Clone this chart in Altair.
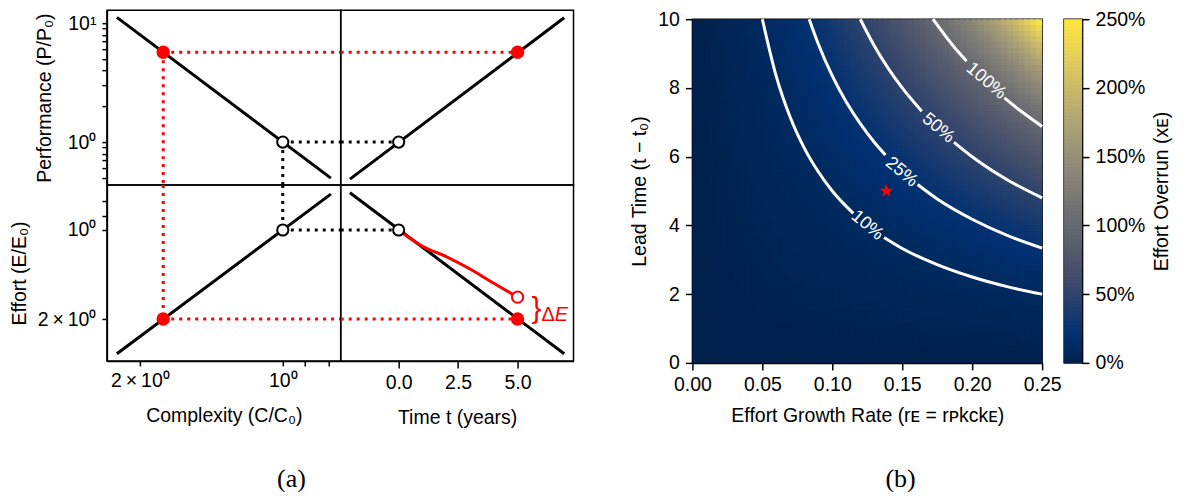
import numpy as np
import pandas as pd
import altair as alt

FONT = "Liberation Sans"
SERIF = "Liberation Serif"
RED = "#ff0000"
FS = 19.5
STAR = ("M0,-1L0.2245,-0.309L0.951,-0.309L0.363,0.118L0.588,0.809L0,0.382"
        "L-0.588,0.809L-0.363,0.118L-0.951,-0.309L-0.2245,-0.309Z")

# ---------------- panel (a): values ----------------
C_domain = [0.755, 2.347]     # complexity axis extent (reversed, log)
P_domain = [0.435, 12.86]     # performance axis extent (log)
E_domain = [0.7047, 2.771]    # effort axis extent (reversed, log)
T_domain = [-2.437, 7.353]    # time axis extent

C_line = [2.236, 0.792]
P_vs_C = [11.2, 0.497]
E_vs_C = [2.62, 0.756]
T_line = [-2.05, 6.96]
P_vs_T = [0.488, 11.1]
E_vs_T = [0.748, 2.62]

base_C, base_P, base_E, base_T = 1.0, 1.0, 1.0, 0.0
red_C, red_P, red_E, red_T = 1.786, 5.7, 2.0, 5.0
plan_E = 1.687

T_curve = [0, 0.5, 1, 2, 3, 4, 5]
E_curve = [1.0, 1.070, 1.135, 1.230, 1.355, 1.514, 1.687]

P_ticks = [0.5, 0.6, 0.7, 0.8, 0.9, 1, 2, 3, 4, 5, 6, 7, 8, 9, 10]
E_ticks = [0.8, 0.9, 1, 2]
C_ticks = [0.8, 0.9, 1, 2]
T_ticks = [0, 2.5, 5]

# ---------------- panel (b): values ----------------
r_ticks = [0, 0.05, 0.10, 0.15, 0.20, 0.25]
lead_ticks = [0, 2, 4, 6, 8, 10]
cb_ticks = [0, 0.5, 1.0, 1.5, 2.0, 2.5]

# overrun level  <->  product r_E * t at which it is reached
overrun_stops = [0, 0.10, 0.20, 0.28, 0.56, 0.83, 1.11, 1.39, 1.67, 1.94, 2.22, 2.50]
rt_stops = [0, 0.50, 0.75, 0.90, 1.30, 1.58, 1.80, 1.98, 2.13, 2.26, 2.38, 2.48]
color_stops = ["#00204D", "#002A5F", "#003070", "#0A3470", "#39486B", "#575C6D",
               "#707173", "#8A8779", "#A69D75", "#C4B56C", "#E4CF5B", "#FEE838"]

# contour lines (two pieces each, split around the inline label)
c10_r = [0.050, 0.060, 0.070, 0.080, 0.090, 0.100, 0.115, None, 0.137, 0.150, 0.175, 0.200, 0.225, 0.250]
c10_t = [10.0, 8.33, 7.14, 6.25, 5.56, 5.00, 4.35, None, 3.65, 3.33, 2.86, 2.50, 2.22, 2.00]
c25_r = [0.0835, 0.090, 0.100, 0.110, 0.120, 0.130, 0.138, None, 0.161, 0.175, 0.200, 0.225, 0.250]
c25_t = [10.0, 9.28, 8.35, 7.59, 6.96, 6.42, 6.05, None, 5.19, 4.77, 4.18, 3.71, 3.34]
c50_r = [0.120, 0.130, 0.140, 0.150, 0.164, None, 0.187, 0.200, 0.225, 0.250]
c50_t = [10.0, 9.23, 8.57, 8.00, 7.32, None, 6.42, 6.00, 5.33, 4.80]
c100_r = [0.172, 0.180, 0.190, 0.196, None, 0.223, 0.235, 0.250]
c100_t = [10.0, 9.56, 9.05, 8.78, None, 7.71, 7.32, 6.88]

label_text = ["10%", "25%", "50%", "100%"]
label_r = [0.125, 0.1495, 0.1757, 0.210]
label_t = [4.0, 5.55, 6.83, 8.2]

star_r = [0.1386]
star_t = [5.0]

# ---------------- scales / axes ----------------
sC = alt.Scale(type="log", domain=C_domain, reverse=True, nice=False)
sP = alt.Scale(type="log", domain=P_domain, nice=False)
sE = alt.Scale(type="log", domain=E_domain, reverse=True, nice=False)
sT = alt.Scale(domain=T_domain, nice=False, zero=False)

two = "'2\u2009×\u200910⁰'"
axP = alt.Axis(values=P_ticks, title="Performance (P/P₀)", tickSize=5, titlePadding=13,
               labelExpr="datum.value == 1 ? '10⁰' : datum.value == 10 ? '10¹' : ''")
axE = alt.Axis(values=E_ticks, title="Effort (E/E₀)", tickSize=5,
               labelExpr=f"datum.value == 1 ? '10⁰' : datum.value == 2 ? {two} : ''")
axC = alt.Axis(values=C_ticks, title="Complexity (C/C₀)", tickSize=5, titlePadding=16,
               labelExpr=f"datum.value == 1 ? '10⁰' : datum.value == 2 ? {two} : ''")
axT = alt.Axis(values=T_ticks, format=".1f", title="Time t (years)", titlePadding=16)


def enc(chan, scale, axis):
    def f(field):
        return chan(field, type="quantitative", scale=scale, axis=axis)
    return f


dotted = dict(strokeWidth=3, strokeDash=[3, 5])


def seg_layer(xs, x2s, ys, y2s, cols, xf, yf):
    df = pd.DataFrame({"x": xs, "x2": x2s, "y": ys, "y2": y2s, "c": cols})
    return alt.Chart(df).mark_rule(**dotted).encode(
        x=xf("x"), x2="x2", y=yf("y"), y2="y2", color=alt.Color("c:N", scale=None))


def line_layer(xs, ys, xf, yf, color, interp="linear"):
    df = pd.DataFrame({"x": xs, "y": ys, "i": list(range(len(xs)))})
    return alt.Chart(df).mark_line(color=color, strokeWidth=3, interpolate=interp).encode(
        x=xf("x"), y=yf("y"), order="i:Q")


def hollow(x, y, xf, yf, stroke="black"):
    df = pd.DataFrame({"x": [x], "y": [y]})
    return alt.Chart(df).mark_point(shape="circle", filled=True, fill="white", stroke=stroke,
                                    strokeWidth=2, size=125, opacity=1).encode(x=xf("x"), y=yf("y"))


def dot(x, y, xf, yf):
    df = pd.DataFrame({"x": [x], "y": [y]})
    return alt.Chart(df).mark_circle(color=RED, size=180, opacity=1).encode(x=xf("x"), y=yf("y"))


# top-left: performance vs complexity
xTL, yTL = enc(alt.X, sC, None), enc(alt.Y, sP, axP)
TL = alt.layer(
    seg_layer([red_C, red_C, base_C, base_C], [C_domain[0], red_C, C_domain[0], base_C],
              [red_P, red_P, base_P, base_P], [red_P, P_domain[0], base_P, P_domain[0]],
              [RED, RED, "black", "black"], xTL, yTL),
    line_layer(C_line, P_vs_C, xTL, yTL, "black"),
    hollow(base_C, base_P, xTL, yTL),
    dot(red_C, red_P, xTL, yTL),
).properties(width=234, height=175)

# top-right: performance vs time
xTR, yTR = enc(alt.X, sT, None), enc(alt.Y, sP, None)
TR = alt.layer(
    seg_layer([T_domain[0], T_domain[0]], [red_T, base_T], [red_P, base_P], [red_P, base_P],
              [RED, "black"], xTR, yTR),
    line_layer(T_line, P_vs_T, xTR, yTR, "black"),
    hollow(base_T, base_P, xTR, yTR),
    dot(red_T, red_P, xTR, yTR),
).properties(width=233, height=175)

# bottom-left: effort vs complexity
xBL, yBL = enc(alt.X, sC, axC), enc(alt.Y, sE, axE)
BL = alt.layer(
    seg_layer([red_C, red_C, base_C, base_C], [red_C, C_domain[0], base_C, C_domain[0]],
              [E_domain[0], red_E, E_domain[0], base_E], [red_E, red_E, base_E, base_E],
              [RED, RED, "black", "black"], xBL, yBL),
    line_layer(C_line, E_vs_C, xBL, yBL, "black"),
    hollow(base_C, base_E, xBL, yBL),
    dot(red_C, red_E, xBL, yBL),
).properties(width=234, height=176)

# bottom-right: effort vs time
xBR, yBR = enc(alt.X, sT, axT), enc(alt.Y, sE, None)
ann = pd.DataFrame({"x": [5.80, 6.01, 6.56], "y": [1.984, 2.03, 2.03], "s": ["}", "Δ", "E"]})
brace = alt.Chart(ann.iloc[[0]]).mark_text(color=RED, font=FONT, fontSize=30, align="center",
                                          baseline="alphabetic").encode(x=xBR("x"), y=yBR("y"), text="s:N")
delta = alt.Chart(ann.iloc[[1]]).mark_text(color=RED, font=FONT, fontSize=20, align="left",
                                          baseline="alphabetic").encode(x=xBR("x"), y=yBR("y"), text="s:N")
eital = alt.Chart(ann.iloc[[2]]).mark_text(color=RED, font=FONT, fontSize=20, align="left", fontStyle="italic",
                                          baseline="alphabetic").encode(x=xBR("x"), y=yBR("y"), text="s:N")
BR = alt.layer(
    line_layer(T_line, E_vs_T, xBR, yBR, "black"),
    line_layer(T_curve, E_curve, xBR, yBR, RED, "monotone"),
    seg_layer([T_domain[0], T_domain[0]], [red_T, base_T], [red_E, base_E], [red_E, base_E],
              [RED, "black"], xBR, yBR),
    hollow(base_T, base_E, xBR, yBR),
    hollow(red_T, plan_E, xBR, yBR, RED),
    dot(red_T, red_E, xBR, yBR),
    brace, delta, eital,
).properties(width=233, height=176)

grid = alt.concat(TL, TR, BL, BR, columns=2, spacing=0, bounds="flush",
                  title=alt.TitleParams("(a)", orient="bottom", font=SERIF, fontSize=26,
                                        fontWeight="normal", color="black", offset=38, anchor="middle"))

# ---------------- heatmap ----------------
NR, NT = 60, 60
r_edges = np.linspace(0, 0.25, NR + 1)
t_edges = np.linspace(0, 10, NT + 1)
dr, dt = r_edges[1] - r_edges[0], t_edges[1] - t_edges[0]
R0, T0 = np.meshgrid(r_edges[:-1], t_edges[:-1])
cells = pd.DataFrame({
    "r0": R0.ravel(), "r1": np.minimum(R0 + 1.3 * dr, 0.25).ravel(),
    "t0": T0.ravel(), "t1": np.minimum(T0 + 1.3 * dt, 10).ravel(),
    "rc": (R0 + dr / 2).ravel(), "tc": (T0 + dt / 2).ravel(),
})

sR = alt.Scale(domain=[0, 0.25], nice=False, zero=False)
sL = alt.Scale(domain=[0, 10], nice=False, zero=False)
axR = alt.Axis(values=r_ticks, format=".2f", title="Effort Growth Rate (rᴇ = rᴘkᴄkᴇ)", titlePadding=12)
axL = alt.Axis(values=lead_ticks, format="d", title="Lead Time (t − t₀)")
xH, yH = enc(alt.X, sR, axR), enc(alt.Y, sL, axL)

heat = alt.Chart(cells).transform_calculate(u="datum.rc * datum.tc").mark_rect().encode(
    x=xH("r0"), x2="r1", y=yH("t0"), y2="t1",
    color=alt.Color("u:Q", scale=alt.Scale(domain=rt_stops, range=color_stops,
                                           interpolate="rgb", clamp=True), legend=None))


def contour_df(rs, ts, name):
    rows, seg, k = [], 0, 0
    for r, t in zip(rs, ts):
        if r is None:
            seg += 1
            continue
        rows.append({"r": r, "t": t, "seg": f"{name}-{seg}", "i": k})
        k += 1
    return rows


crow = (contour_df(c10_r, c10_t, "a") + contour_df(c25_r, c25_t, "b") +
        contour_df(c50_r, c50_t, "c") + contour_df(c100_r, c100_t, "d"))
contours = alt.Chart(pd.DataFrame(crow)).mark_line(color="white", strokeWidth=3, interpolate="monotone").encode(
    x=xH("r"), y=yH("t"), detail="seg:N", order="i:Q")
clabels = alt.Chart(pd.DataFrame({"r": label_r, "t": label_t, "s": label_text})).mark_text(
    color="white", font=FONT, fontSize=18, angle=40, align="center", baseline="middle").encode(
    x=xH("r"), y=yH("t"), text="s:N")
star = alt.Chart(pd.DataFrame({"r": star_r, "t": star_t})).mark_point(
    shape=STAR, filled=True, color=RED, size=200, opacity=1).encode(x=xH("r"), y=yH("t"))

heatmap = alt.layer(heat, contours, clabels, star).properties(width=350, height=344)

# ---------------- colorbar ----------------
cb_edges = np.linspace(0, 2.5, 101)
dv = cb_edges[1] - cb_edges[0]
cbdf = pd.DataFrame({"v0": cb_edges[:-1], "v1": np.minimum(cb_edges[:-1] + 1.3 * dv, 2.5),
                     "vm": cb_edges[:-1] + dv / 2, "cx0": 0.0, "cx1": 1.0})
colorbar = alt.Chart(cbdf).mark_rect().encode(
    x=alt.X("cx0:Q", scale=alt.Scale(domain=[0, 1], nice=False), axis=None), x2="cx1",
    y=alt.Y("v0:Q", scale=alt.Scale(domain=[0, 2.5], nice=False, zero=False),
            axis=alt.Axis(orient="right", values=cb_ticks, format=".0%", title="Effort Overrun (xᴇ)",
                          titleAngle=270, titleBaseline="top")),
    y2="v1",
    color=alt.Color("vm:Q", scale=alt.Scale(domain=overrun_stops, range=color_stops, interpolate="rgb"),
                    legend=None),
).properties(width=18, height=344)

spacer = alt.Chart(pd.DataFrame({"s": [0]})).mark_point(opacity=0).encode(
    x=alt.X("s:Q", axis=None), y=alt.Y("s:Q", axis=None)
).properties(width=350, height=9, view=alt.ViewBackground(stroke="transparent"))

right_row = alt.hconcat(heatmap, colorbar, spacing=22, bounds="flush").resolve_scale(color="independent")
right = alt.vconcat(spacer, right_row, spacing=0, bounds="flush",
                    title=alt.TitleParams("(b)", orient="bottom", font=SERIF, fontSize=26,
                                          fontWeight="normal", color="black", offset=40, anchor="middle")
                    ).resolve_scale(color="independent")

chart = alt.hconcat(grid, right, spacing=54).resolve_scale(
    color="independent").properties(
    padding={"left": 0, "right": 5, "top": 0, "bottom": 0}
).configure_view(stroke="black", strokeWidth=1.5).configure_axis(
    labelFont=FONT, titleFont=FONT, labelFontSize=FS, titleFontSize=FS, titleFontWeight="normal",
    labelColor="black", titleColor="black", domainColor="black", tickColor="black",
    domainWidth=1.5, tickWidth=1.5, tickSize=7, grid=False, labelFlush=False, labelOverlap=False,
    labelPadding=6, titlePadding=8)

chart.save("out.html", embed_options={"renderer": "svg", "actions": False})
